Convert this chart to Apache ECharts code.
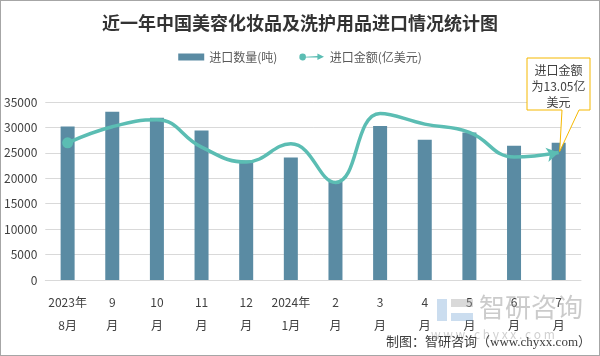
<!DOCTYPE html>
<html><head><meta charset="utf-8">
<script src="https://cdn.jsdelivr.net/npm/echarts@6/dist/echarts.min.js"></script>
<style>html,body{margin:0;padding:0;background:#fff}#c{width:598px;height:354px;border:1px solid #a6a6a6}</style>
</head><body><div id="c"></div>
<script>
const categories = ['2023年\n8月','9\n月','10\n月','11\n月','12\n月','2024年\n1月','2\n月','3\n月','4\n月','5\n月','6\n月','7\n月'];
const quantity = [30200, 33100, 31900, 29400, 23500, 24100, 19400, 30300, 27600, 29000, 26400, 27000];
const amount = [14.03, 15.68, 16.39, 13.59, 12.07, 13.93, 9.98, 17.03, 15.95, 15.10, 12.58, 13.05];
const yTicks = [0, 5000, 10000, 15000, 20000, 25000, 30000, 35000];

const chart = echarts.init(document.getElementById('c'));
const lineData = amount.map((v, i) => {
  if (i === 0) return {value: v, symbol: 'circle', symbolSize: 11};
  if (i === amount.length - 1) return {value: v, symbol: 'arrow', symbolSize: [11, 12], symbolRotate: -78, symbolOffset: [0, 0]};
  return {value: v, symbol: 'none'};
});
const font = '"Noto Sans CJK SC", "Noto Sans", sans-serif';
chart.setOption({
  animation: false,
  title: {text: '近一年中国美容化妆品及洗护用品进口情况统计图', left: 'center', top: 8,
    textStyle: {fontSize: 18, fontWeight: 'bold', color: '#333', fontFamily: font}},
  legend: {top: 45, left: 'center', itemGap: 22, itemWidth: 26, itemHeight: 7,
    textStyle: {fontSize: 12, color: '#595959', fontFamily: font},
    data: [
      {name: '进口数量(吨)', icon: 'rect'},
      {name: '进口金额(亿美元)', icon: 'path://M0,4 A4,4 0 1 1 8,4 L22,3 L22,0 L30,4 L22,8 L22,5 L8,5 A4,4 0 0 1 0,4 Z'}
    ]},
  grid: {left: 43, right: 18, top: 101, bottom: 75},
  xAxis: {type: 'category', data: categories,
    axisLine: {lineStyle: {color: '#d9d9d9'}}, axisTick: {show: false},
    axisLabel: {color: '#404040', fontSize: 12, lineHeight: 23, margin: 11, interval: 0, fontFamily: font}},
  yAxis: [
    {type: 'value', min: yTicks[0], max: yTicks[yTicks.length - 1], interval: yTicks[1] - yTicks[0],
      axisLine: {show: false}, axisTick: {show: false},
      splitLine: {lineStyle: {color: '#d9d9d9'}},
      axisLabel: {color: '#404040', fontSize: 12, margin: 8, fontFamily: font, formatter: v => String(v)}},
    {type: 'value', min: 0, max: 18.21, show: false, splitLine: {show: false}}
  ],
  series: [
    {name: '进口数量(吨)', type: 'bar', data: quantity, barWidth: 14,
      itemStyle: {color: '#5a8ba3'}},
    {name: '进口金额(亿美元)', type: 'line', yAxisIndex: 1, data: lineData, smooth: 0.45,
      lineStyle: {color: '#5bbdb3', width: 3.5}, itemStyle: {color: '#5bbdb3'}, z: 5}
  ]
});

function drawOverlay() {
  const last = amount.length - 1;
  const p = chart.convertToPixel({xAxisIndex: 0, yAxisIndex: 1}, [last, amount[last]]);
  const bx = 526, by = 57, bw = 63, bh = 52;
  chart.setOption({graphic: [
    {type: 'polygon', z: 100, shape: {points: [[bx, by], [bx + bw, by], [bx + bw, by + bh], [578, by + bh], [p[0] + 1, p[1] - 1], [561, by + bh], [bx, by + bh]]},
      style: {fill: '#fff', stroke: '#f5b800', lineWidth: 1}},
    {type: 'text', z: 101, x: bx + bw / 2, y: by + 4,
      style: {text: '进口金额\n为13.05亿\n美元', font: '12px ' + font, fill: '#404040', lineHeight: 16, align: 'center'}},
    {type: 'text', z: 50, x: 478, y: 293, silent: true,
      style: {text: '智研咨询', font: '26px ' + font, fill: 'rgba(140,140,140,0.45)'}},
    {type: 'text', z: 50, x: 430, y: 327, silent: true,
      style: {text: 'w w w . c h y x x . c o m', font: '12px ' + font, fill: 'rgba(150,150,150,0.45)'}},
    {type: 'rect', z: 50, silent: true, shape: {x: 436, y: 298, width: 10, height: 22}, style: {fill: 'rgba(140,180,220,0.45)'}},
    {type: 'rect', z: 50, silent: true, shape: {x: 450, y: 298, width: 22, height: 8}, style: {fill: 'rgba(160,160,160,0.4)'}},
    {type: 'rect', z: 50, silent: true, shape: {x: 450, y: 312, width: 22, height: 8}, style: {fill: 'rgba(140,180,220,0.45)'}},
    {type: 'text', z: 60, right: 8, top: 335,
      style: {text: '制图：智研咨询（www.chyxx.com）', font: '13px "Liberation Serif", "Noto Sans CJK SC", serif', fill: '#404040'}}
  ]});
}
drawOverlay();
</script></body></html>
